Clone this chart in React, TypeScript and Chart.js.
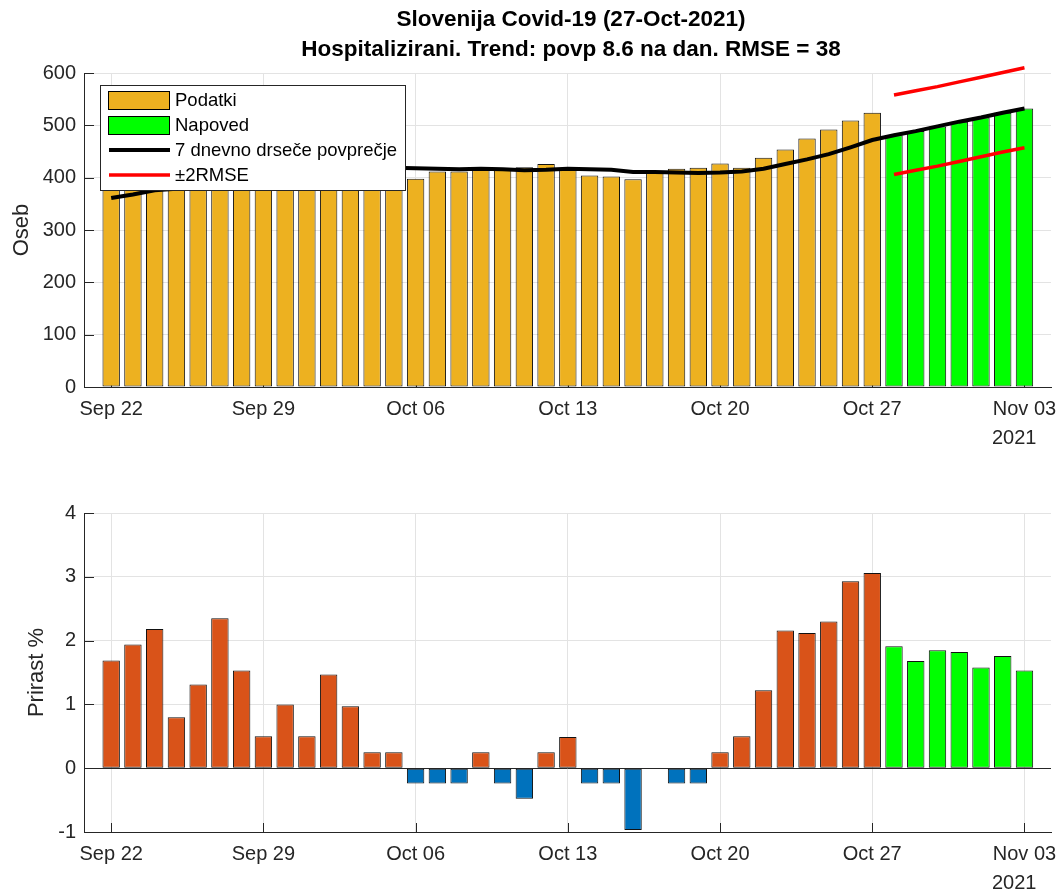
import React, { useEffect, useRef } from 'react';
import { Chart, registerables } from 'chart.js';
Chart.register(...registerables);

// ---- data ----
const tickDays = [0, 7, 14, 21, 28, 35, 42];
const tickLabels = ['Sep 22', 'Sep 29', 'Oct 06', 'Oct 13', 'Oct 20', 'Oct 27', 'Nov 03'];
const yearLabel = '2021';

// hospitalised, Sep 22 .. Oct 27
const podatki = [
  385, 390, 398, 388, 395, 410, 405, 405, 412, 415, 418, 420, 428, 419,
  398, 412, 412, 416, 415, 420, 426, 416, 404, 402, 397, 410, 417, 419, 427,
  419, 438, 454, 475, 492, 509, 524,
];
// forecast, Oct 28 .. Nov 03
const napoved = [481, 489, 498, 507, 515, 524, 532];
// 7-day moving average, Sep 22 .. Nov 03
const trend = [
  361, 368, 376, 379, 384, 393, 399, 401, 405, 407, 413, 417, 418, 419,
  418, 417, 416, 417, 416, 414, 415, 417, 416, 415, 411, 411, 410, 409, 410,
  412, 417, 426, 435, 445, 458, 472,
  481, 489, 498, 507, 515, 524, 532,
];
const rmseGor = [558, 566, 574, 583, 592, 601, 610];
const rmseDol = [406, 414, 422, 431, 440, 449, 457];

// growth %, Sep 22 .. Oct 27
const prirast = [
  1.69, 1.94, 2.18, 0.8, 1.31, 2.35, 1.53, 0.5, 1.0, 0.5, 1.47, 0.97, 0.25, 0.25,
  -0.24, -0.24, -0.24, 0.25, -0.24, -0.48, 0.25, 0.49, -0.24, -0.24, -0.97, 0, -0.24, -0.24, 0.25,
  0.5, 1.22, 2.16, 2.12, 2.3, 2.93, 3.06,
];
// growth %, forecast Oct 28 .. Nov 03
const prirastNapoved = [1.91, 1.68, 1.85, 1.82, 1.58, 1.76, 1.53];

const title1 = 'Slovenija Covid-19 (27-Oct-2021)';
const title2 = 'Hospitalizirani. Trend: povp 8.6 na dan. RMSE = 38';
const legendLabels = ['Podatki', 'Napoved', '7 dnevno drseče povprečje', '±2RMSE'];
const yTitleTop = 'Oseb';
const yTitleBot = 'Prirast %';

// ---- styles ----
const FONT = '"Liberation Sans", Arial, Helvetica, sans-serif';
const TXT = '#262626';
const GRID = '#e3e3e3';
const ORANGE = '#EDB120';
const GREEN = '#00FF00';
const RED_ORANGE = '#D95319';
const BLUE = '#0072BD';
const X_MIN = -1.25;
const X_MAX = 43.22;
const TICK_FONT = 20;

const nData = podatki.length;

function xScale() {
  return {
    type: 'linear' as const,
    min: X_MIN,
    max: X_MAX,
    offset: false,
    afterBuildTicks: (s: any) => {
      s.ticks = tickDays.map((v) => ({ value: v }));
    },
    afterFit: (s: any) => {
      s.height = 40;
      s.paddingLeft = 0;
      s.paddingRight = 0;
    },
    ticks: {
      autoSkip: false,
      maxRotation: 0,
      minRotation: 0,
      padding: 10,
      color: TXT,
      font: { family: FONT, size: TICK_FONT },
      callback: (_v: any, i: number) => tickLabels[i],
    },
    grid: { color: GRID, drawTicks: false, offset: false, lineWidth: 1 },
    border: { display: true, color: TXT, width: 1 },
  };
}

function yScale(min: number, max: number, step: number) {
  return {
    type: 'linear' as const,
    min,
    max,
    afterFit: (s: any) => {
      s.width = 84;
      s.paddingTop = 0;
      s.paddingBottom = 0;
    },
    ticks: {
      stepSize: step,
      padding: 8,
      color: TXT,
      font: { family: FONT, size: TICK_FONT },
    },
    grid: { color: GRID, drawTicks: false, lineWidth: 1 },
    border: { display: true, color: TXT, width: 1 },
  };
}

function inwardTicks(chart: any) {
  const { ctx, chartArea } = chart;
  const xs = chart.scales.x;
  const ys = chart.scales.y;
  ctx.save();
  ctx.strokeStyle = TXT;
  ctx.lineWidth = 1;
  ctx.beginPath();
  ys.ticks.forEach((t: any) => {
    const y = Math.round(ys.getPixelForValue(t.value)) + 0.5;
    ctx.moveTo(chartArea.left, y);
    ctx.lineTo(chartArea.left + 10, y);
  });
  tickDays.forEach((d) => {
    const x = Math.round(xs.getPixelForValue(d)) + 0.5;
    ctx.moveTo(x, chartArea.bottom);
    ctx.lineTo(x, chartArea.bottom - 9);
  });
  ctx.stroke();
  ctx.restore();
}

function drawYear(chart: any) {
  const { ctx } = chart;
  ctx.save();
  ctx.fillStyle = TXT;
  ctx.font = `${TICK_FONT}px ${FONT}`;
  ctx.textAlign = 'left';
  ctx.textBaseline = 'middle';
  ctx.fillText(yearLabel, 992, 438);
  ctx.restore();
}

function drawYTitle(chart: any, text: string, x: number) {
  const { ctx, chartArea } = chart;
  ctx.save();
  ctx.fillStyle = TXT;
  ctx.font = `22px ${FONT}`;
  ctx.textAlign = 'center';
  ctx.textBaseline = 'middle';
  ctx.translate(x, (chartArea.top + chartArea.bottom) / 2);
  ctx.rotate(-Math.PI / 2);
  ctx.fillText(text, 0, 0);
  ctx.restore();
}

const topPlugin = {
  id: 'topDecor',
  beforeDatasetsDraw(chart: any) {
    inwardTicks(chart);
  },
  afterDatasetsDraw(chart: any) {
    const { ctx } = chart;
    // legend
    ctx.save();
    ctx.fillStyle = '#ffffff';
    ctx.fillRect(100.5, 85.5, 305, 105);
    ctx.strokeStyle = TXT;
    ctx.lineWidth = 1;
    ctx.strokeRect(100.5, 85.5, 305, 105);
    ctx.fillStyle = ORANGE;
    ctx.fillRect(108.5, 91.5, 61, 18);
    ctx.strokeStyle = '#000';
    ctx.strokeRect(108.5, 91.5, 61, 18);
    ctx.fillStyle = GREEN;
    ctx.fillRect(108.5, 116.5, 61, 18);
    ctx.strokeRect(108.5, 116.5, 61, 18);
    ctx.lineWidth = 4;
    ctx.strokeStyle = '#000';
    ctx.beginPath();
    ctx.moveTo(109, 150);
    ctx.lineTo(170, 150);
    ctx.stroke();
    ctx.strokeStyle = '#FF0000';
    ctx.lineWidth = 3.5;
    ctx.beginPath();
    ctx.moveTo(109, 175);
    ctx.lineTo(170, 175);
    ctx.stroke();
    ctx.fillStyle = '#000';
    ctx.font = `18.5px ${FONT}`;
    ctx.textAlign = 'left';
    ctx.textBaseline = 'middle';
    const ys = [101, 126, 151, 176];
    legendLabels.forEach((l, i) => ctx.fillText(l, 175, ys[i]));
    ctx.restore();
  },
  afterDraw(chart: any) {
    const { ctx } = chart;
    ctx.save();
    ctx.fillStyle = '#000';
    ctx.font = `bold 22.5px ${FONT}`;
    ctx.textAlign = 'center';
    ctx.textBaseline = 'middle';
    ctx.fillText(title1, 571, 20);
    ctx.fillText(title2, 571, 50);
    ctx.restore();
    drawYear(chart);
    drawYTitle(chart, yTitleTop, 22);
  },
};

const botPlugin = {
  id: 'botDecor',
  beforeDatasetsDraw(chart: any) {
    inwardTicks(chart);
    const { ctx, chartArea } = chart;
    const y0 = Math.round(chart.scales.y.getPixelForValue(0)) + 0.5;
    ctx.save();
    ctx.strokeStyle = TXT;
    ctx.lineWidth = 1;
    ctx.beginPath();
    ctx.moveTo(chartArea.left, y0);
    ctx.lineTo(chartArea.right, y0);
    ctx.stroke();
    ctx.restore();
  },
  afterDraw(chart: any) {
    drawYear(chart);
    drawYTitle(chart, yTitleBot, 37);
  },
};

export default function App() {
  const topRef = useRef<HTMLCanvasElement>(null);
  const botRef = useRef<HTMLCanvasElement>(null);

  useEffect(() => {
    const barCommon = {
      grouped: false,
      barPercentage: 0.8,
      categoryPercentage: 1,
      borderWidth: 1,
      borderColor: '#111111',
      borderSkipped: false as const,
    };

    const top = new Chart(topRef.current as HTMLCanvasElement, {
      type: 'bar',
      data: {
        datasets: [
          {
            type: 'line',
            label: legendLabels[3],
            data: rmseGor.map((v, i) => ({ x: nData + i, y: v })),
            borderColor: '#FF0000',
            borderWidth: 3.5,
            pointRadius: 0,
            clip: false,
            order: 0,
          } as any,
          {
            type: 'line',
            label: legendLabels[3] + ' ',
            data: rmseDol.map((v, i) => ({ x: nData + i, y: v })),
            borderColor: '#FF0000',
            borderWidth: 3.5,
            pointRadius: 0,
            clip: false,
            order: 0,
          } as any,
          {
            type: 'line',
            label: legendLabels[2],
            data: trend.map((v, i) => ({ x: i, y: v })),
            borderColor: '#000000',
            borderWidth: 4,
            pointRadius: 0,
            order: 1,
          } as any,
          {
            type: 'bar',
            label: legendLabels[0],
            data: podatki.map((v, i) => ({ x: i, y: v })),
            backgroundColor: ORANGE,
            order: 2,
            ...barCommon,
          } as any,
          {
            type: 'bar',
            label: legendLabels[1],
            data: napoved.map((v, i) => ({ x: nData + i, y: v })),
            backgroundColor: GREEN,
            order: 2,
            ...barCommon,
          } as any,
        ],
      },
      options: {
        responsive: false,
        animation: false,
        devicePixelRatio: 1,
        layout: { padding: { left: 0, right: 11, top: 73, bottom: 18 } },
        plugins: { legend: { display: false }, tooltip: { enabled: false }, title: { display: false } },
        scales: { x: xScale() as any, y: yScale(0, 600, 100) as any },
      },
      plugins: [topPlugin],
    });

    const bot = new Chart(botRef.current as HTMLCanvasElement, {
      type: 'bar',
      data: {
        datasets: [
          {
            label: 'Prirast',
            data: prirast.map((v, i) => ({ x: i, y: v })),
            backgroundColor: (c: any) => (c.raw && c.raw.y < 0 ? BLUE : RED_ORANGE),
            ...barCommon,
          } as any,
          {
            label: 'Prirast napoved',
            data: prirastNapoved.map((v, i) => ({ x: nData + i, y: v })),
            backgroundColor: GREEN,
            ...barCommon,
          } as any,
        ],
      },
      options: {
        responsive: false,
        animation: false,
        devicePixelRatio: 1,
        layout: { padding: { left: 0, right: 11, top: 68, bottom: 18 } },
        plugins: { legend: { display: false }, tooltip: { enabled: false }, title: { display: false } },
        scales: { x: xScale() as any, y: yScale(-1, 4, 1) as any },
      },
      plugins: [botPlugin],
    });

    return () => {
      top.destroy();
      bot.destroy();
    };
  }, []);

  return (
    <div style={{ position: 'fixed', left: 0, top: 0, width: 1062, height: 890, background: '#ffffff' }}>
      <canvas ref={topRef} width={1062} height={445} style={{ position: 'absolute', left: 0, top: 0 }} />
      <canvas ref={botRef} width={1062} height={445} style={{ position: 'absolute', left: 0, top: 445 }} />
    </div>
  );
}
